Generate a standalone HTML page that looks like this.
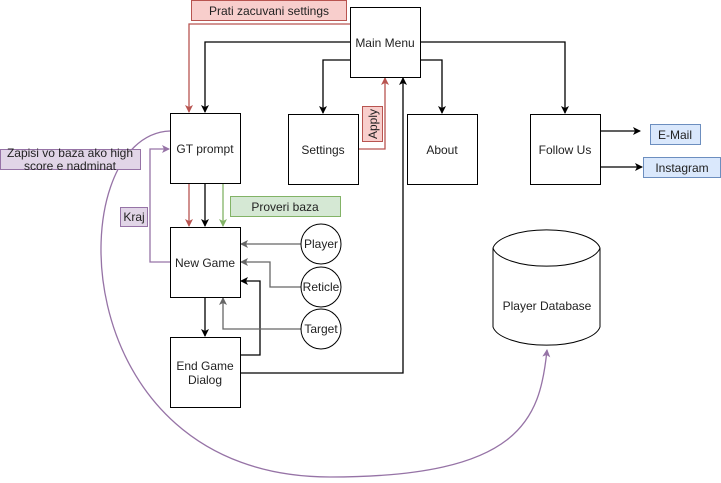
<!DOCTYPE html>
<html><head><meta charset="utf-8"><style>
body{margin:0;background:#fff}
svg text{font-family:"Liberation Sans",sans-serif;font-size:12px;fill:#222}
</style></head><body>
<svg width="721" height="478" viewBox="0 0 721 478" xmlns="http://www.w3.org/2000/svg">
<defs>
<marker id="ab" markerWidth="8" markerHeight="8" refX="7" refY="4" orient="auto" markerUnits="userSpaceOnUse"><path d="M0,0 L8,4 L0,8 L2,4z" fill="#000"/></marker>
<marker id="ar" markerWidth="8" markerHeight="8" refX="7" refY="4" orient="auto" markerUnits="userSpaceOnUse"><path d="M0,0 L8,4 L0,8 L2,4z" fill="#b85450"/></marker>
<marker id="ag" markerWidth="8" markerHeight="8" refX="7" refY="4" orient="auto" markerUnits="userSpaceOnUse"><path d="M0,0 L8,4 L0,8 L2,4z" fill="#82b366"/></marker>
<marker id="ap" markerWidth="8" markerHeight="8" refX="7" refY="4" orient="auto" markerUnits="userSpaceOnUse"><path d="M0,0 L8,4 L0,8 L2,4z" fill="#9673a6"/></marker>
<marker id="ay" markerWidth="8" markerHeight="8" refX="7" refY="4" orient="auto" markerUnits="userSpaceOnUse"><path d="M0,0 L8,4 L0,8 L2,4z" fill="#666"/></marker>
</defs>
<g fill="none" stroke-width="1.3">
<path d="M350,24 H189 V112" stroke="#b85450" marker-end="url(#ar)"/>
<path d="M350,42 H205 V112" stroke="#000" marker-end="url(#ab)"/>
<path d="M350,60 H323 V113" stroke="#000" marker-end="url(#ab)"/>
<path d="M420,42 H565 V113" stroke="#000" marker-end="url(#ab)"/>
<path d="M420,60 H442 V113" stroke="#000" marker-end="url(#ab)"/>
<path d="M358,149 H385 V78" stroke="#b85450" marker-end="url(#ar)"/>
<path d="M240,373 H403 V78" stroke="#000" marker-end="url(#ab)"/>
<path d="M240,355 H260 V281 H241" stroke="#000" marker-end="url(#ab)"/>
<path d="M189,183 V226" stroke="#b85450" marker-end="url(#ar)"/>
<path d="M205,183 V226" stroke="#000" marker-end="url(#ab)"/>
<path d="M223,183 V226" stroke="#82b366" marker-end="url(#ag)"/>
<path d="M205,297 V336" stroke="#000" marker-end="url(#ab)"/>
<path d="M170,262 H150 V149 H169" stroke="#9673a6" marker-end="url(#ap)"/>
<path d="M170,131 C60,135 60,477 330,477 C520,477 540,420 547,350" stroke="#9673a6" marker-end="url(#ap)"/>
<path d="M301,244 H241" stroke="#666" marker-end="url(#ay)"/>
<path d="M301,287 H270 V262 H241" stroke="#666" marker-end="url(#ay)"/>
<path d="M301,329 H223 V298" stroke="#666" marker-end="url(#ay)"/>
<path d="M600,131 H640" stroke="#000" marker-end="url(#ab)"/>
<path d="M600,167 H642" stroke="#000" marker-end="url(#ab)"/>
</g>
<g fill="#fff" stroke="#000" stroke-width="1">
<rect x="350.5" y="7.5" width="70" height="70"/>
<rect x="170.5" y="113.5" width="70" height="70"/>
<rect x="288.5" y="114.5" width="70" height="70"/>
<rect x="407.5" y="114.5" width="70" height="70"/>
<rect x="530.5" y="114.5" width="70" height="70"/>
<rect x="170.5" y="227.5" width="70" height="70"/>
<rect x="170.5" y="337.5" width="70" height="70"/>
<circle cx="321" cy="244" r="20"/>
<circle cx="321" cy="287" r="20"/>
<circle cx="321" cy="329" r="20"/>
<path d="M493,248 V327 A54,21 0 0 0 600,327 V248 A54,21 0 0 0 493,248 A54,21 0 0 0 600,248"/>
</g>
<rect x="191.5" y="0.5" width="155" height="20" fill="#f8cecc" stroke="#b85450"/>
<rect x="362.5" y="106.5" width="20" height="35" fill="#f8cecc" stroke="#b85450"/>
<rect x="0.5" y="149.5" width="140" height="20" fill="#e1d5e7" stroke="#9673a6"/>
<rect x="120.5" y="207.5" width="27" height="19" fill="#e1d5e7" stroke="#9673a6"/>
<rect x="230.5" y="196.5" width="110" height="20" fill="#d5e8d4" stroke="#82b366"/>
<rect x="650.5" y="124.5" width="50" height="20" fill="#dae8fc" stroke="#6c8ebf"/>
<rect x="643.5" y="157.5" width="77" height="20" fill="#dae8fc" stroke="#6c8ebf"/>
<g text-anchor="middle">
<text x="269" y="15">Prati zacuvani settings</text>
<text x="385" y="47">Main Menu</text>
<text x="205" y="153">GT prompt</text>
<text x="323" y="154">Settings</text>
<text x="442" y="154">About</text>
<text x="565" y="154">Follow Us</text>
<text x="205" y="267">New Game</text>
<text x="205" y="370">End Game</text>
<text x="205" y="384">Dialog</text>
<text x="321" y="248">Player</text>
<text x="321" y="291">Reticle</text>
<text x="321" y="333">Target</text>
<text x="547" y="310">Player Database</text>
<text x="285" y="211">Proveri baza</text>
<text x="675" y="139">E-Mail</text>
<text x="682" y="172">Instagram</text>
<text x="134" y="221">Kraj</text>
<text x="70" y="157">Zapisi vo baza ako high</text>
<text x="70" y="170">score e nadminat</text>
<text transform="translate(377,124) rotate(-90)">Apply</text>
</g>
</svg>
</body></html>
